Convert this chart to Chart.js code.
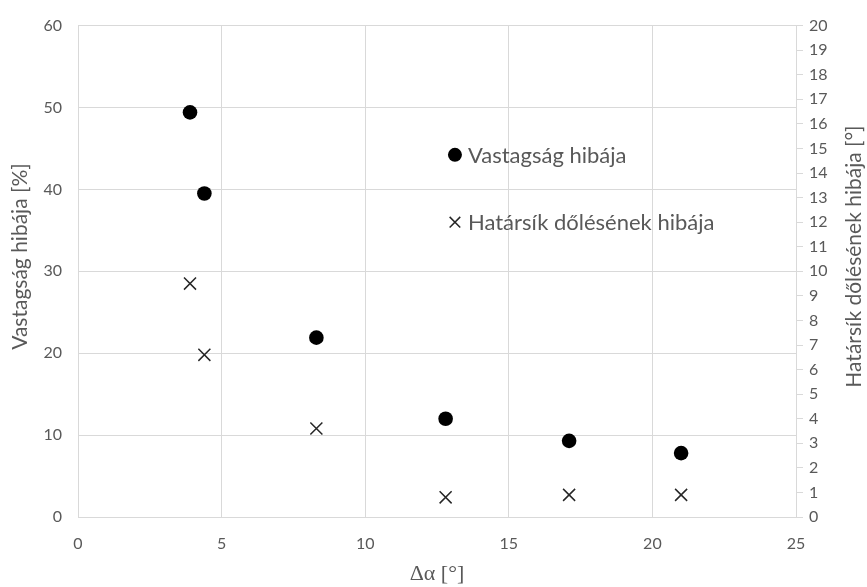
<!DOCTYPE html>
<html>
<head>
<meta charset="utf-8">
<script src="https://cdn.jsdelivr.net/npm/chart.js@4/dist/chart.umd.min.js"></script>
<style>
  html, body { margin: 0; padding: 0; background: #ffffff; }
  #wrap { width: 867px; height: 587px; position: relative; }
</style>
</head>
<body>
<div id="wrap"><canvas id="c" width="867" height="587"></canvas></div>
<script>
// Measurement angle Δα [°]
const deltaAlpha = [3.9, 4.4, 8.3, 12.8, 17.1, 21.0];
// Thickness error [%] (left axis)
const thicknessError = [49.4, 39.5, 21.9, 12.0, 9.3, 7.8];
// Boundary tilt error [°] (right axis)
const tiltError = [9.5, 6.6, 3.6, 0.8, 0.9, 0.9];

const seriesNames = ['Vastagság hibája', 'Határsík dőlésének hibája'];
const xTitle = 'Δα [°]';
const yLeftTitle = 'Vastagság hibája [%]';
const yRightTitle = 'Határsík dőlésének hibája [°]';

const textColor = '#595959';
const gridColor = '#d9d9d9';
const uiFont = 'Lato, "Open Sans", sans-serif';

const toPoints = (xs, ys) => xs.map((x, i) => ({ x: x, y: ys[i] }));

// Legend drawn inside the plot area
const innerLegend = {
  id: 'innerLegend',
  afterDatasetsDraw(chart) {
    const { ctx, chartArea: a } = chart;
    const x0 = a.left + (a.right - a.left) * 0.525;
    const rows = [a.top + (a.bottom - a.top) * 0.263, a.top + (a.bottom - a.top) * 0.4];
    ctx.save();
    chart.data.datasets.forEach((ds, i) => {
      const y = rows[i];
      ctx.save();
      ctx.fillStyle = ds.backgroundColor;
      ctx.strokeStyle = ds.borderColor;
      ctx.lineWidth = ds.borderWidth;
      Chart.helpers.drawPoint(ctx, {
        pointStyle: ds.pointStyle,
        radius: ds.pointStyle === 'circle' ? 7 : 7.5,
        borderWidth: ds.borderWidth
      }, x0, y);
      ctx.restore();
      ctx.fillStyle = textColor;
      ctx.font = '22px ' + uiFont;
      ctx.textBaseline = 'middle';
      ctx.textAlign = 'left';
      ctx.fillText(ds.label, x0 + 13, y + 1);
    });
    ctx.restore();
  }
};

// Vertical axis titles, both reading bottom to top
const sideTitles = {
  id: 'sideTitles',
  afterDraw(chart) {
    const { ctx, chartArea: a } = chart;
    const cy = a.top + (a.bottom - a.top) * 0.47;
    ctx.save();
    ctx.fillStyle = textColor;
    ctx.font = '21px ' + uiFont;
    ctx.textAlign = 'center';
    ctx.textBaseline = 'middle';
    [[20, yLeftTitle], [854, yRightTitle]].forEach(([x, t]) => {
      ctx.save();
      ctx.translate(x, cy);
      ctx.rotate(-Math.PI / 2);
      ctx.fillText(t, 0, 0);
      ctx.restore();
    });
    ctx.restore();
  }
};

new Chart(document.getElementById('c'), {
  type: 'scatter',
  data: {
    datasets: [
      {
        label: seriesNames[0],
        data: toPoints(deltaAlpha, thicknessError),
        yAxisID: 'y',
        pointStyle: 'circle',
        pointRadius: 7.3,
        backgroundColor: '#000000',
        borderColor: '#000000',
        borderWidth: 0
      },
      {
        label: seriesNames[1],
        data: toPoints(deltaAlpha, tiltError),
        yAxisID: 'y2',
        pointStyle: 'crossRot',
        pointRadius: 8.5,
        backgroundColor: '#262626',
        borderColor: '#262626',
        borderWidth: 1.5
      }
    ]
  },
  options: {
    responsive: false,
    animation: false,
    layout: { padding: { top: 22, left: 0, right: 0, bottom: 0 } },
    plugins: {
      legend: { display: false },
      tooltip: { enabled: false }
    },
    scales: {
      x: {
        type: 'linear',
        min: 0, max: 25,
        ticks: { stepSize: 5, color: textColor, font: { family: uiFont, size: 16 }, padding: 17 },
        grid: { color: gridColor, drawTicks: false, lineWidth: 1 },
        border: { color: gridColor },
        title: {
          display: true, text: xTitle, color: textColor,
          font: { family: '"Liberation Serif", "DejaVu Serif", serif', size: 22 },
          padding: { top: 2, bottom: 0 }
        },
        afterFit(scale) { scale.height = 70; }
      },
      y: {
        type: 'linear', position: 'left',
        min: 0, max: 60,
        ticks: { stepSize: 10, color: textColor, font: { family: uiFont, size: 16 }, padding: 16 },
        grid: { color: gridColor, drawTicks: false },
        border: { display: false },
        afterFit(scale) { scale.width = 78; }
      },
      y2: {
        type: 'linear', position: 'right',
        min: 0, max: 20,
        ticks: { stepSize: 1, color: textColor, font: { family: uiFont, size: 16 }, padding: 6 },
        grid: { drawOnChartArea: false, color: gridColor, tickLength: 7 },
        border: { color: gridColor },
        afterFit(scale) { scale.width = 71; }
      }
    }
  },
  plugins: [innerLegend, sideTitles]
});
</script>
</body>
</html>
